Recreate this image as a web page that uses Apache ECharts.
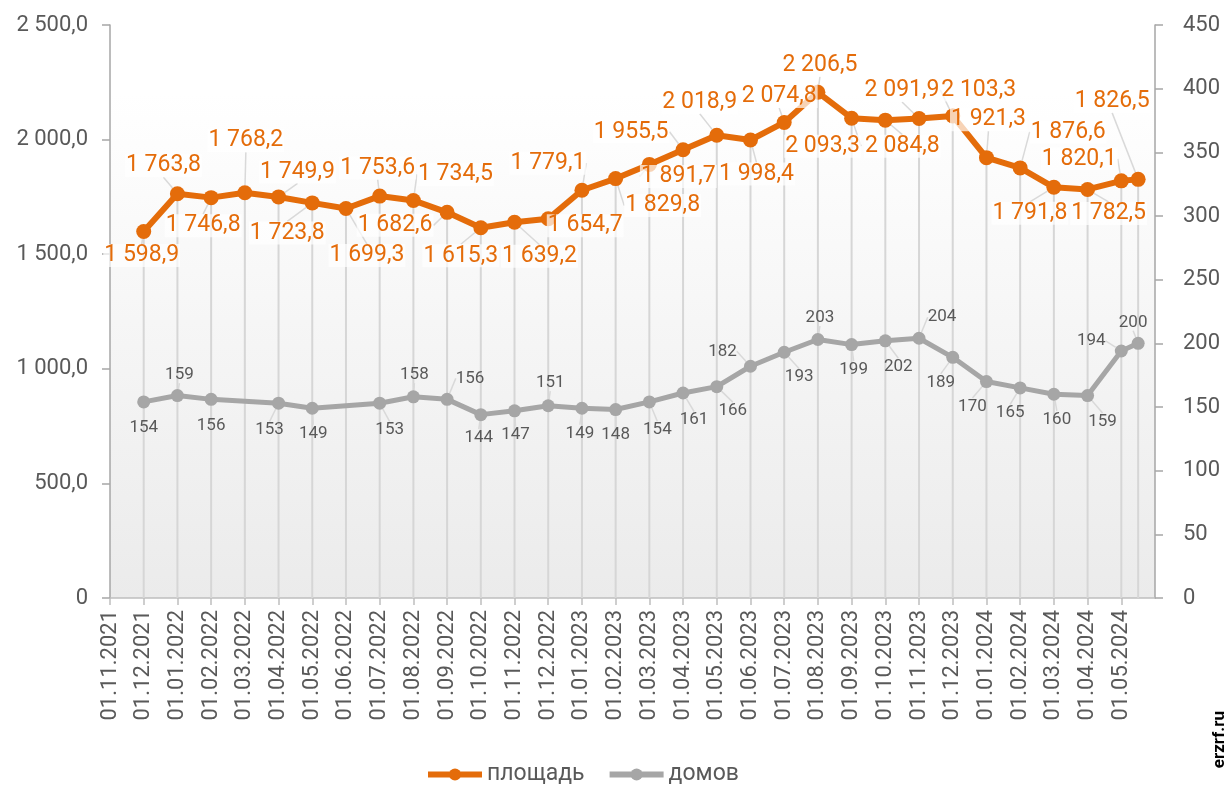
<!DOCTYPE html>
<html>
<head>
<meta charset="utf-8">
<title>Площадь и дома</title>
<script src="https://cdn.jsdelivr.net/npm/echarts@6/dist/echarts.min.js"></script>
<style>
  html, body { margin: 0; padding: 0; background: #fff; }
  #chart { width: 1227px; height: 787px; }
</style>
</head>
<body>
<div id="chart"></div>
<script>
// подписи оси X: месяцы начиная с 01.11.2021
var months = [
  '01.11.2021', '01.12.2021',
  '01.01.2022', '01.02.2022', '01.03.2022', '01.04.2022', '01.05.2022', '01.06.2022',
  '01.07.2022', '01.08.2022', '01.09.2022', '01.10.2022', '01.11.2022', '01.12.2022',
  '01.01.2023', '01.02.2023', '01.03.2023', '01.04.2023', '01.05.2023', '01.06.2023',
  '01.07.2023', '01.08.2023', '01.09.2023', '01.10.2023', '01.11.2023', '01.12.2023',
  '01.01.2024', '01.02.2024', '01.03.2024', '01.04.2024', '01.05.2024'
];

// где стоит точка: номер месяца от 01.11.2021 (последняя - середина мая 2024)
var pointMonth = [1, 2, 3, 4, 5, 6, 7, 8, 9, 10, 11, 12, 13, 14, 15, 16,
  17, 18, 19, 20, 21, 22, 23, 24, 25, 26, 27, 28, 29, 30, 30.5];

// площадь, левая ось
var area = [1598.9, 1763.8, 1746.8, 1768.2, 1749.9, 1723.8, 1699.3, 1753.6, 1734.5, 1682.6,
  1615.3, 1639.2, 1654.7, 1779.1, 1829.8, 1891.7, 1955.5, 2018.9, 1998.4, 2074.8,
  2206.5, 2093.3, 2084.8, 2091.9, 2103.3, 1921.3, 1876.6, 1791.8, 1782.5, 1820.1, 1826.5];

// домов, правая ось (null - нет значения)
var houses = [154, 159, 156, null, 153, 149, null, 153, 158, 156, 144, 147, 151, 149, 148, 154,
  161, 166, 182, 193, 203, 199, 202, 204, 189, 170, 165, 160, 159, 194, 200];

// сдвиг подписей от точки (как в исходнике)
var areaShift = [[-2, 24], [-14, -28], [-8, 28], [1, -52], [19, -25], [-25, 30], [21, 47],
  [-2, -28], [42, -26], [-52, 13], [-20, 28], [25, 34], [37, 7], [-34, -27], [47, 27],
  [29, 12], [-52, -18], [-17, -33], [6, 34], [-5, -26], [2, -27], [-29, 28], [17, 26],
  [-17, -28], [26, -26], [2, -38], [48, -36], [-24, 26], [21, 24], [-42, -22], [-26, -78]];
var housesShift = [[0, 26], [2, -21], [0, 26], null, [-9, 27], [1, 25], null, [10, 27],
  [1, -22], [23, -21], [-2, 23], [1, 24], [2, -23], [-2, 25], [0, 25], [8, 28], [11, 27],
  [16, 24], [-28, -15], [15, 25], [2, -22], [2, 25], [13, 26], [23, -21], [-12, 25],
  [-14, 25], [-10, 25], [3, 25], [15, 26], [-30, -10], [-5, -21]];

var ORANGE = '#e46c0a';
var GREY = '#a6a6a6';
var TEXT = '#595959';
var FONT = 'Roboto, "Noto Sans", sans-serif';

function fmt(v, d) {
  var s = v.toFixed(d).split('.');
  var whole = s[0].replace(/\B(?=(\d{3})+(?!\d))/g, ' ');
  return s.length > 1 ? whole + ',' + s[1] : whole;
}

var areaData = [], dropData = [];
for (var i = 0; i < area.length; i++) {
  areaData.push([pointMonth[i], area[i]]);
  dropData.push([pointMonth[i], area[i]]);
}
var housesData = [], housesShiftUsed = [];
for (var j = 0; j < houses.length; j++) {
  if (houses[j] === null) continue;
  housesData.push([pointMonth[j], houses[j]]);
  housesShiftUsed.push(housesShift[j]);
}

function shiftLayout(shifts) {
  return function (p) {
    var s = shifts[p.dataIndex] || [0, 0];
    return {
      x: p.rect.x + p.rect.width / 2 + s[0],
      y: p.rect.y + p.rect.height / 2 + s[1],
      align: 'center',
      verticalAlign: 'middle'
    };
  };
}

var myChart = echarts.init(document.getElementById('chart'));

var option = {
  animation: false,
  textStyle: { fontFamily: FONT },
  grid: {
    left: 110, right: 72, top: 25, bottom: 189,
    outerBoundsMode: 'none',
    show: true,
    borderWidth: 0,
    backgroundColor: new echarts.graphic.LinearGradient(0, 0, 0, 1, [
      { offset: 0, color: '#ffffff' },
      { offset: 0.12, color: '#ffffff' },
      { offset: 1, color: '#ebebeb' }
    ])
  },
  legend: {
    data: ['площадь', 'домов'],
    left: 420, top: 758,
    itemWidth: 54, itemHeight: 15, itemGap: 22,
    lineStyle: { width: 6 },
    textStyle: { fontSize: 23, color: TEXT, fontFamily: FONT }
  },
  xAxis: {
    type: 'value',
    min: 0, max: 31, interval: 1,
    axisLine: { show: true, lineStyle: { color: '#bfbfbf', width: 1.5 } },
    axisTick: { show: true, length: 7, lineStyle: { color: '#bfbfbf', width: 1.5 } },
    splitLine: { show: false },
    axisLabel: {
      rotate: 90, margin: 12, fontSize: 22, color: TEXT,
      showMaxLabel: false,
      formatter: function (v) { return months[Math.round(v)] || ''; }
    }
  },
  yAxis: [
    {
      type: 'value', min: 0, max: 2500, interval: 500,
      axisLine: { show: true, lineStyle: { color: '#a6a6a6', width: 1.5 } },
      axisTick: { show: true, length: 8, lineStyle: { color: '#a6a6a6', width: 1.5 } },
      splitLine: { show: false },
      axisLabel: {
        margin: 22, fontSize: 22, color: TEXT,
        formatter: function (v) { return v === 0 ? '0' : fmt(v, 1); }
      }
    },
    {
      type: 'value', min: 0, max: 450, interval: 50, position: 'right',
      axisLine: { show: true, lineStyle: { color: '#a6a6a6', width: 1.5 } },
      axisTick: { show: true, length: 8, lineStyle: { color: '#a6a6a6', width: 1.5 } },
      splitLine: { show: false },
      axisLabel: { margin: 28, fontSize: 22, color: TEXT }
    }
  ],
  series: [
    {
      // вертикальные линии от точек площади к оси
      name: 'drop',
      type: 'bar',
      yAxisIndex: 0,
      barWidth: 2,
      silent: true,
      z: 1,
      itemStyle: { color: '#d6d6d6' },
      data: dropData
    },
    {
      name: 'домов',
      type: 'line',
      yAxisIndex: 1,
      z: 3,
      symbol: 'circle',
      symbolSize: 13,
      color: GREY,
      lineStyle: { color: GREY, width: 5 },
      itemStyle: { color: GREY },
      label: {
        show: true, fontSize: 17, color: TEXT,
        formatter: function (p) { return p.value[1]; }
      },
      labelLine: { show: true, lineStyle: { color: '#d9d9d9', width: 1.5 } },
      labelLayout: shiftLayout(housesShiftUsed),
      data: housesData
    },
    {
      name: 'площадь',
      type: 'line',
      yAxisIndex: 0,
      z: 4,
      symbol: 'circle',
      symbolSize: 15,
      color: ORANGE,
      lineStyle: { color: ORANGE, width: 6 },
      itemStyle: { color: ORANGE },
      label: {
        show: true, fontSize: 23, color: ORANGE,
        backgroundColor: 'rgba(255,255,255,0.7)',
        padding: [0, 1],
        formatter: function (p) { return fmt(p.value[1], 1); }
      },
      labelLine: { show: true, lineStyle: { color: '#d9d9d9', width: 1.5 } },
      labelLayout: shiftLayout(areaShift),
      data: areaData
    }
  ],
  graphic: [
    {
      type: 'text',
      x: 1220, y: 711,
      rotation: Math.PI / 2,
      style: {
        text: 'erzrf.ru', fill: '#000', fontSize: 17, fontWeight: 'bold',
        fontFamily: FONT, align: 'right', verticalAlign: 'middle'
      }
    }
  ]
};

myChart.setOption(option);
</script>
</body>
</html>
